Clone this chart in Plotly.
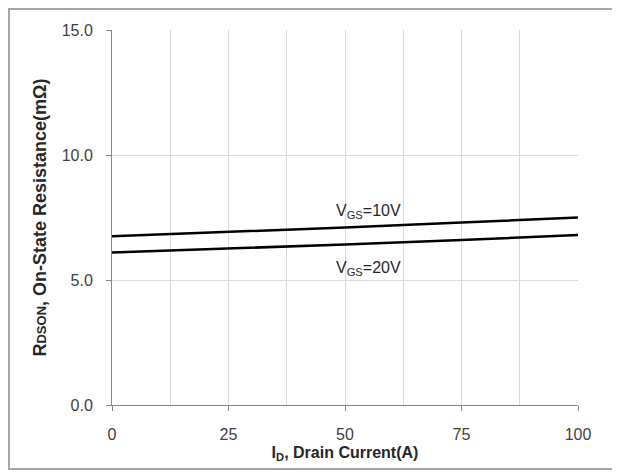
import plotly.graph_objects as go

current_a = [0, 25, 50, 75, 100]
rdson_vgs10 = [6.75, 6.92, 7.1, 7.3, 7.5]
rdson_vgs20 = [6.1, 6.25, 6.42, 6.6, 6.8]
x_ticks = [0, 25, 50, 75, 100]
y_ticks = [0, 5, 10, 15]
y_tick_labels = ["0.0", "5.0", "10.0", "15.0"]

FONT = "Arial, Liberation Sans, sans-serif"

fig = go.Figure()
for ys in (rdson_vgs10, rdson_vgs20):
    fig.add_trace(go.Scatter(x=current_a, y=ys, mode="lines",
                             line=dict(color="black", width=2.5),
                             showlegend=False, hoverinfo="skip"))

fig.add_annotation(x=55, y=7.76, text="V<sub>GS</sub>=10V", showarrow=False,
                   font=dict(family=FONT, size=16, color="#262626"))
fig.add_annotation(x=55, y=5.48, text="V<sub>GS</sub>=20V", showarrow=False,
                   font=dict(family=FONT, size=16, color="#262626"))

fig.update_xaxes(range=[0, 100], tickvals=x_ticks, ticks="outside", ticklen=5,
                 tickcolor="#868686", showline=True, linecolor="#868686", linewidth=1,
                 showgrid=False, zeroline=False, ticklabelstandoff=10,
                 minor=dict(dtick=12.5, showgrid=True, gridcolor="#d9d9d9", gridwidth=1, ticks=""),
                 tickfont=dict(family=FONT, size=16, color="#404040"),
                 title=dict(text="<b>I<sub>D</sub>, Drain Current(A)</b>", standoff=4,
                            font=dict(family=FONT, size=16, color="#262626")))
fig.update_yaxes(range=[0, 15], tickvals=y_ticks, ticktext=y_tick_labels, ticks="outside",
                 ticklen=5, tickcolor="#868686", showline=True, linecolor="#868686",
                 linewidth=1, showgrid=True, gridcolor="#d9d9d9", gridwidth=1, zeroline=False,
                 ticklabelstandoff=10,
                 tickfont=dict(family=FONT, size=16, color="#404040"),
                 title=dict(text='<b>R<span style="font-size:13px">DSON</span>, On-State Resistance(mΩ)</b>',
                            standoff=10, font=dict(family=FONT, size=18, color="#262626")))

fig.add_shape(type="rect", xref="paper", yref="paper", x0=-0.2210, x1=1.107,
              y0=-0.1707, y1=1.056, line=dict(color="#a6a6a6", width=2), layer="below")

fig.update_layout(width=612, height=464, margin=dict(l=104, r=42, t=22, b=67),
                  plot_bgcolor="white", paper_bgcolor="white")
fig.write_html("out.html")
